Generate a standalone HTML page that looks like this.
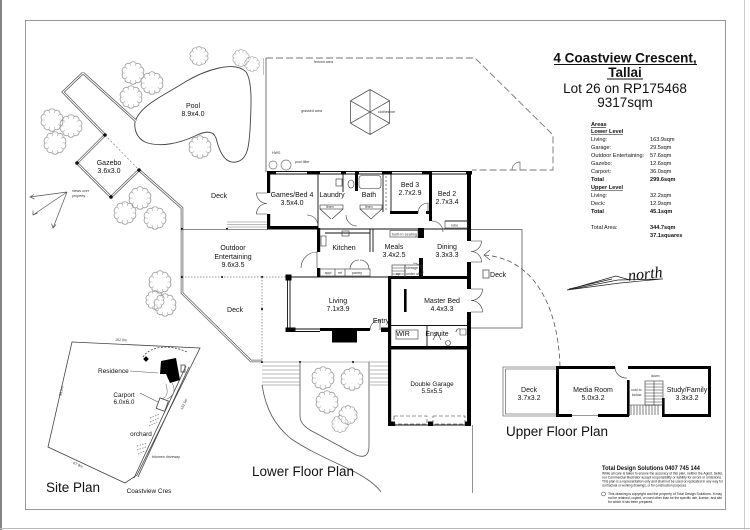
<!DOCTYPE html>
<html><head><meta charset="utf-8"><title>4 Coastview Crescent, Tallai</title>
<style>
html,body{margin:0;padding:0;background:#fff;width:750px;height:530px;overflow:hidden}
svg{display:block}
text{font-family:"Liberation Sans",Arial,sans-serif;fill:#111}
.r{font-size:7px;text-anchor:middle}
.g{font-size:6.4px;text-anchor:middle}
.s{font-size:3.6px;fill:#333}
.a{font-size:5.6px}
.b{font-weight:bold}
</style></head><body>
<svg width="750" height="530" viewBox="0 0 750 530" xmlns="http://www.w3.org/2000/svg">
<defs>
<symbol id="tr" viewBox="-12 -12 24 24">
<path d="M10,0 A3.6,3.6 0 0 1 8.09,5.88 A3.6,3.6 0 0 1 3.09,9.51 A3.6,3.6 0 0 1 -3.09,9.51 A3.6,3.6 0 0 1 -8.09,5.88 A3.6,3.6 0 0 1 -10,0 A3.6,3.6 0 0 1 -8.09,-5.88 A3.6,3.6 0 0 1 -3.09,-9.51 A3.6,3.6 0 0 1 3.09,-9.51 A3.6,3.6 0 0 1 8.09,-5.88 A3.6,3.6 0 0 1 10,0 Z" fill="none" stroke="#999" stroke-width="0.8"/>
<path d="M10,0 L7.4,0 M8.09,5.88 L6,4.35 M3.09,9.51 L2.3,7 M-3.09,9.51 L-2.3,7 M-8.09,5.88 L-6,4.35 M-10,0 L-7.4,0 M-8.09,-5.88 L-6,-4.35 M-3.09,-9.51 L-2.3,-7 M3.09,-9.51 L2.3,-7 M8.09,-5.88 L6,-4.35" stroke="#aaa" stroke-width="0.6"/>
</symbol>
</defs>
<rect width="750" height="530" fill="#fff"/>

<!-- page borders -->
<line x1="1" y1="0" x2="1" y2="530" stroke="#666" stroke-width="1.6"/>
<line x1="0" y1="528.5" x2="750" y2="528.5" stroke="#bbb" stroke-width="1"/>
<line x1="744.5" y1="0" x2="744.5" y2="530" stroke="#ccc" stroke-width="1"/>
<rect x="25.5" y="20.5" width="700" height="489" fill="none" stroke="#999" stroke-width="1"/>

<!-- fenced area -->
<path d="M266,58 L475,58 L553,135 L553,170 L472,170" fill="none" stroke="#777" stroke-width="0.9" stroke-dasharray="7 3"/>
<line x1="266" y1="58" x2="266" y2="172" stroke="#666" stroke-width="0.9"/>
<line x1="263.5" y1="58" x2="263.5" y2="75" stroke="#999" stroke-width="0.6"/>
<path d="M512,170 A8,8 0 0 1 520,162 L520,170" fill="none" stroke="#666" stroke-width="0.7"/>
<path d="M370,89.5 L389.5,100.75 L389.5,123.25 L370,134.5 L350.5,123.25 L350.5,100.75 Z M370,89.5 L370,134.5 M389.5,100.75 L350.5,123.25 M389.5,123.25 L350.5,100.75" fill="none" stroke="#555" stroke-width="0.8"/>
<text class="s" x="314" y="63">fenced area</text>
<text class="s" x="301" y="112">grassed area</text>
<text class="s" x="378" y="113">clothesline</text>
<text class="s" x="272" y="154">HWS</text>
<text class="s" x="295" y="163">pool filter</text>
<circle cx="273" cy="165" r="4" fill="none" stroke="#777" stroke-width="0.7"/>
<circle cx="286" cy="165" r="5" fill="none" stroke="#777" stroke-width="0.7"/>

<!-- pool -->
<path d="M135,122 C140,105 165,95 185,82 C205,70 235,60 246,72 C253,82 251,110 250,130 C249,145 248,160 236,162 C224,164 219,150 216,138 C213,130 205,131 195,136 C180,143 160,148 145,142 C137,138 134,130 135,122 Z" fill="none" stroke="#444" stroke-width="0.9"/>
<text class="r" x="193" y="108">Pool</text>
<text class="r" x="193" y="116">8.9x4.0</text>

<!-- walkways / deck edges (double lines) -->
<g fill="none" stroke-linejoin="miter">
<path d="M83,73 L63,92 L105,135 M83,73 L136,121 M139,170 L182,208 L182,293 L251,361 L262,361 M105,135 L77,163 L111,197 L139,170" stroke="#666" stroke-width="2.6"/>
<path d="M83,73 L63,92 L105,135 M83,73 L136,121 M139,170 L182,208 L182,293 L251,361 L262,361 M105,135 L77,163 L111,197 L139,170" stroke="#fff" stroke-width="1"/>
</g>
<line x1="105" y1="135" x2="139" y2="170" stroke="#777" stroke-width="0.6" stroke-dasharray="2 2"/>
<g fill="#111">
<circle cx="105" cy="135" r="1.8"/><circle cx="77" cy="163" r="1.8"/><circle cx="111" cy="197" r="1.8"/><circle cx="139" cy="170" r="1.8"/>
<circle cx="182" cy="229" r="1.1"/><circle cx="227" cy="229" r="1.1"/>
<circle cx="182" cy="277" r="1.1"/><circle cx="222" cy="277" r="1.1"/><circle cx="262" cy="277" r="1.1"/>
<circle cx="262" cy="309" r="1.1"/><circle cx="262" cy="362" r="1.1"/><circle cx="300" cy="362" r="1.1"/><circle cx="353" cy="362" r="1.1"/>
</g>
<text class="r" x="109" y="165">Gazebo</text>
<text class="r" x="109" y="173">3.6x3.0</text>

<!-- views arrows -->
<g fill="none" stroke="#555" stroke-width="0.7">
<path d="M67,192 L30,197 M67,192 L33,215 M67,192 L53,228"/>
<path d="M34,194.5 L30,197 L34.5,199 M33,210.5 L33,215 L37.5,213 M51.5,223.5 L53,228 L56,224.5"/>
</g>
<text class="s" x="72" y="192">views over</text>
<text class="s" x="72" y="197">property</text>

<!-- deck lines around outdoor entertaining -->
<line x1="182" y1="229.5" x2="268" y2="229.5" stroke="#666" stroke-width="0.8"/>
<g stroke="#777" stroke-width="0.6"><line x1="227" y1="222" x2="267" y2="222"/><line x1="227" y1="224.5" x2="267" y2="224.5"/><line x1="227" y1="227" x2="267" y2="227"/></g>
<line x1="182" y1="277" x2="287" y2="277" stroke="#777" stroke-width="0.7" stroke-dasharray="1.5 1.5"/>
<line x1="262" y1="277" x2="262" y2="362" stroke="#777" stroke-width="0.7" stroke-dasharray="1.5 1.5"/>
<text class="r" x="219" y="198">Deck</text>
<text class="r" x="233" y="250">Outdoor</text>
<text class="r" x="233" y="259">Entertaining</text>
<text class="r" x="233" y="267">9.6x3.5</text>
<text class="r" x="235" y="312">Deck</text>

<!-- lower steps & planter -->
<g stroke="#777" stroke-width="0.6">
<line x1="262" y1="362" x2="388" y2="362"/>
<line x1="262" y1="366" x2="300" y2="366"/><line x1="262" y1="370" x2="300" y2="370"/><line x1="262" y1="374" x2="300" y2="374"/><line x1="262" y1="378" x2="300" y2="378"/><line x1="262" y1="382" x2="300" y2="382"/><line x1="262" y1="385" x2="300" y2="385"/>
<line x1="370" y1="366" x2="388" y2="366"/><line x1="370" y1="370" x2="388" y2="370"/><line x1="370" y1="374" x2="388" y2="374"/><line x1="370" y1="378" x2="388" y2="378"/><line x1="370" y1="382" x2="388" y2="382"/><line x1="370" y1="385" x2="388" y2="385"/>
</g>
<path d="M300,362 L300,416 Q300,424 310,430 L356,455 Q369,460 369,446 L369,362" fill="none" stroke="#555" stroke-width="0.8"/>
<path d="M262,385 C266,410 275,425 290,438 C310,452 335,462 355,472 C368,479 376,485 381,492" fill="none" stroke="#555" stroke-width="0.8"/>
<line x1="472.5" y1="425" x2="472.5" y2="493" stroke="#777" stroke-width="0.8"/>

<!-- trees -->
<g>
<use href="#tr" x="189" y="46" width="20" height="20"/>
<use href="#tr" x="232" y="49" width="18" height="18"/>
<use href="#tr" x="244" y="56" width="16" height="16"/>
<use href="#tr" x="121" y="61" width="24" height="24"/>
<use href="#tr" x="140" y="71" width="24" height="24"/>
<use href="#tr" x="119" y="85" width="24" height="24"/>
<use href="#tr" x="40" y="108" width="24" height="24"/>
<use href="#tr" x="59" y="114" width="24" height="24"/>
<use href="#tr" x="43" y="131" width="24" height="24"/>
<use href="#tr" x="188" y="135" width="24" height="24"/>
<use href="#tr" x="128" y="186" width="24" height="24"/>
<use href="#tr" x="113" y="201" width="24" height="24"/>
<use href="#tr" x="143" y="206" width="24" height="24"/>
<use href="#tr" x="148" y="270" width="24" height="24"/>
<use href="#tr" x="145" y="290" width="20" height="20"/>
<use href="#tr" x="153" y="293" width="24" height="24"/>
<use href="#tr" x="311" y="366" width="24" height="24"/>
<use href="#tr" x="340" y="367" width="24" height="24"/>
<use href="#tr" x="315" y="390" width="24" height="24"/>
<use href="#tr" x="338" y="405" width="20" height="20"/>
<use href="#tr" x="331" y="415" width="18" height="18"/>
</g>

<!-- ============ HOUSE (lower floor) ============ -->
<g stroke="#111" stroke-width="0.9" fill="none">
<line x1="267" y1="171.5" x2="471" y2="171.5"/>
<line x1="267" y1="174" x2="471" y2="174"/>
<line x1="318" y1="172" x2="318" y2="228"/>
<line x1="343" y1="172" x2="343" y2="192"/>
<line x1="383" y1="172" x2="383" y2="212"/>
<line x1="391" y1="172" x2="391" y2="212"/>
<line x1="318" y1="229" x2="470" y2="229"/>
<line x1="445" y1="221" x2="468" y2="221"/>
<line x1="287.5" y1="277" x2="390" y2="277"/>
<line x1="287.5" y1="277" x2="287.5" y2="330"/>
<line x1="290" y1="277" x2="290" y2="330"/>
<line x1="295" y1="329" x2="320" y2="329"/>
<line x1="295" y1="331.5" x2="320" y2="331.5"/>
<line x1="390" y1="325.5" x2="470" y2="325.5"/>
<line x1="427" y1="325" x2="427" y2="348"/>
<line x1="395" y1="425" x2="466" y2="425"/>
<line x1="370" y1="229" x2="370" y2="252"/>
<line x1="373" y1="229" x2="373" y2="252"/>
<line x1="325" y1="233" x2="370" y2="233"/>
</g>
<line x1="389" y1="280" x2="389" y2="323" stroke="#333" stroke-width="0.8" stroke-dasharray="3 2"/>
<g fill="#000">
<rect x="267" y="171" width="9" height="3.5"/><rect x="307" y="171" width="13" height="3.5"/>
<rect x="341" y="171" width="5" height="3.5"/><rect x="355" y="171" width="4" height="3.5"/>
<rect x="382" y="171" width="10" height="3.5"/><rect x="422" y="171" width="10" height="3.5"/>
<rect x="466" y="171" width="6" height="3.5"/>
<rect x="267" y="171" width="3.2" height="22"/><rect x="267" y="214" width="3.2" height="15"/>
<rect x="267" y="226" width="51" height="3.5"/>
<rect x="355" y="171" width="3" height="20"/>
<rect x="390" y="211" width="28" height="3"/><rect x="426" y="211" width="5" height="3"/>
<rect x="429" y="171" width="3" height="50"/>
<rect x="317" y="228" width="3.2" height="24"/><rect x="317" y="268" width="3.2" height="9"/>
<rect x="418" y="228" width="6" height="10"/>
<rect x="419" y="258" width="4" height="19"/>
<rect x="285.5" y="274.5" width="6" height="6"/>
<rect x="285.5" y="327.5" width="10" height="4.5"/>
<rect x="320" y="328" width="50" height="3"/>
<rect x="332" y="330" width="25" height="12.5"/>
<rect x="381" y="327.5" width="9" height="4.5"/>
<rect x="388" y="276" width="83" height="3"/>
<rect x="388" y="276" width="3.2" height="150"/>
<rect x="404" y="289" width="2.6" height="23"/>
<rect x="467" y="171" width="4" height="70"/><rect x="467" y="262" width="4" height="27"/><rect x="467" y="312" width="4" height="114"/>
<rect x="388" y="346" width="83" height="3.5"/>
<rect x="388" y="421.5" width="7" height="4.5"/><rect x="428" y="421.5" width="5" height="4.5"/><rect x="465" y="421.5" width="6" height="4.5"/>
</g>
<!-- fixtures -->
<g fill="none" stroke="#333" stroke-width="0.6">
<rect x="359" y="175.5" width="22" height="13" rx="3"/>
<ellipse cx="351" cy="184" rx="3" ry="4"/>
<rect x="336" y="179" width="6" height="7"/>
<rect x="320" y="205" width="23" height="4"/><rect x="360" y="205" width="22" height="4"/>
<path d="M320,209 L331,219 M343,209 L332,219 M360,209 L371,219 M382,209 L371,219"/>
<rect x="445" y="221" width="23" height="7"/>
<line x1="386" y1="176" x2="386" y2="210" stroke-dasharray="2 2"/>
<rect x="390" y="230.5" width="28" height="6.5"/>
<rect x="320" y="269" width="50" height="7"/>
<line x1="335" y1="269" x2="335" y2="276"/><line x1="345" y1="269" x2="345" y2="276"/>
<path d="M350,269 A9,9 0 0 1 359,260 M369,269 A9,9 0 0 0 360,260"/>
<rect x="321" y="236" width="5" height="10"/>
<rect x="342" y="231" width="7" height="5"/>
<rect x="392" y="265" width="13" height="12"/>
<path d="M392,268 H405 M392,271 H405 M392,274 H405"/>
<rect x="405" y="265" width="17" height="12"/>
<rect x="396" y="330" width="22" height="9"/>
<circle cx="448" cy="343" r="2.5"/>
<path d="M460,329 h6 v6 h-6 z M456,332 a3,3 0 0 1 4,-3"/>
<path d="M433,340 l4,-8 l4,8"/>
<rect x="394" y="416" width="33" height="8" stroke-dasharray="4 2"/>
<rect x="433" y="416" width="32" height="8" stroke-dasharray="4 2"/>
</g>
<!-- doors -->
<g fill="none" stroke="#333" stroke-width="0.6">
<path d="M267,193 L256.5,193 A10.5,10.5 0 0 0 267,203.5 M267,214 L256.5,214 A10.5,10.5 0 0 1 267,203.5"/>
<path d="M471,241 L481.5,241 A10.5,10.5 0 0 1 471,251.5 M471,262 L481.5,262 A10.5,10.5 0 0 0 471,251.5"/>
<path d="M471,289 L482.5,289 A11.5,11.5 0 0 1 471,300.5 M471,312 L482.5,312 A11.5,11.5 0 0 0 471,300.5"/>
<path d="M317,268 L317,252 A16,16 0 0 0 301,268"/>
<path d="M370,330 A10,10 0 0 1 380,320 L380,330"/>
<path d="M418,213 A10,10 0 0 1 428,203 L428,213"/>
<path d="M432,221 A11,11 0 0 1 443,232"/>
<path d="M318,226 A11,11 0 0 0 307,215 M357,226 A11,11 0 0 1 346,215"/>
<path d="M423,273 A10,10 0 0 0 413,263"/>
</g>
<!-- right deck box -->
<g fill="none" stroke="#555" stroke-width="0.8">
<path d="M471,229.5 H522 V328 H471"/>
<rect x="483" y="270" width="6" height="8"/>
</g>

<!-- room labels -->
<text class="r" x="292" y="197">Games/Bed 4</text>
<text class="r" x="292" y="205">3.5x4.0</text>
<text class="r" x="332" y="197">Laundry</text>
<text class="r" x="369" y="197">Bath</text>
<text class="r" x="410" y="187">Bed 3</text>
<text class="r" x="410" y="195">2.7x2.9</text>
<text class="r" x="447" y="196">Bed 2</text>
<text class="r" x="447" y="204">2.7x3.4</text>
<text class="r" x="344" y="250">Kitchen</text>
<text class="r" x="394" y="249">Meals</text>
<text class="r" x="394" y="257">3.4x2.5</text>
<text class="r" x="447" y="249">Dining</text>
<text class="r" x="447" y="257">3.3x3.3</text>
<text class="r" x="338" y="303">Living</text>
<text class="r" x="338" y="311">7.1x3.9</text>
<text class="r" x="442" y="303">Master Bed</text>
<text class="r" x="442" y="311">4.4x3.3</text>
<text class="r" x="381" y="323">Entry</text>
<text class="r" x="403" y="336">WIR</text>
<text class="r" x="437" y="336">Ensuite</text>
<text class="g" x="432" y="386">Double Garage</text>
<text class="g" x="432" y="393">5.5x5.5</text>
<text class="r" x="498" y="277">Deck</text>
<text class="s" x="392" y="235.5" textLength="25">built-in seating</text>
<text class="s" x="328" y="274" text-anchor="middle">appl</text>
<text class="s" x="340" y="274" text-anchor="middle">ref</text>
<text class="s" x="357" y="274" text-anchor="middle">pantry</text>
<text class="s" x="451" y="226.5">robe</text>
<text class="s" x="326" y="208.2">linen</text>
<text class="s" x="365" y="208.2">linen</text>
<text class="s" x="406" y="269">storage</text>
<text class="s" x="406" y="275">under stair</text>
<text class="s" x="396" y="275">up</text>

<text x="252" y="476" style="font-size:13.5px">Lower Floor Plan</text>

<!-- ============ UPPER FLOOR ============ -->
<g fill="none" stroke="#777" stroke-width="0.8">
<path d="M557,367 H503 V416 H557"/>
<path d="M557,369 H505.5 V414 H557"/>
</g>
<g fill="#000">
<rect x="556" y="366" width="59" height="3"/><rect x="628" y="366" width="83" height="3"/>
<rect x="556" y="414" width="16" height="3"/><rect x="598" y="414" width="31" height="3"/><rect x="662" y="414" width="49" height="3"/>
<rect x="556" y="366" width="3" height="51"/>
<rect x="708" y="366" width="3" height="51"/>
<rect x="627" y="380" width="2.6" height="36"/>
<rect x="662" y="398" width="2.6" height="18"/>
</g>
<g fill="none" stroke="#333" stroke-width="0.6">
<line x1="572" y1="415.5" x2="598" y2="415.5"/>
<path d="M615,367 A11,11 0 0 0 627,378"/>
<rect x="645" y="381" width="18" height="24"/>
<path d="M645,384 H663 M645,387 H663 M645,390 H663 M645,393 H663 M645,396 H663 M645,399 H663 M645,402 H663 M654,381 V405"/>
<path d="M631,405 V415 M634,405 V415 M637,405 V415 M640,405 V415 M643,405 V415 M646,405 V415 M649,405 V415 M652,405 V415 M655,405 V415 M658,405 V415 M629,405 H663"/>
</g>
<text class="s" x="631" y="391">void to</text>
<text class="s" x="632" y="396">below</text>
<text class="s" x="651" y="377">down</text>
<text class="r" x="529" y="392">Deck</text>
<text class="r" x="529" y="400">3.7x3.2</text>
<text class="r" x="593" y="392">Media Room</text>
<text class="r" x="593" y="400">5.0x3.2</text>
<text class="r" x="687" y="392">Study/Family</text>
<text class="r" x="687" y="400">3.3x3.2</text>
<text x="506" y="436" style="font-size:13.5px">Upper Floor Plan</text>

<!-- dashed connector -->
<path d="M484,255 C530,258 558,300 560,367" fill="none" stroke="#555" stroke-width="0.8" stroke-dasharray="5 3"/>
<path d="M490,250 L484,255 L490,260" fill="none" stroke="#555" stroke-width="0.7"/>

<!-- north arrow -->
<g fill="none" stroke="#222" stroke-width="0.7">
<path d="M567,290 L616,276 L630,280 M567,290 L618,280 L663,279 M569,289 L612,279 M567,290 L620,283 L662,279"/>
</g>
<text x="628" y="279" transform="rotate(-6 645 275)" style="font-family:'Liberation Serif',serif;font-style:italic;font-size:16px">north</text>

<!-- ============ TITLE & AREAS ============ -->
<text x="625" y="62.5" text-anchor="middle" class="b" style="font-size:13.5px">4 Coastview Crescent,</text>
<line x1="554" y1="64.5" x2="697" y2="64.5" stroke="#111" stroke-width="1"/>
<text x="625" y="77" text-anchor="middle" class="b" style="font-size:13.5px">Tallai</text>
<line x1="607" y1="79" x2="643" y2="79" stroke="#111" stroke-width="1"/>
<text x="625" y="93" text-anchor="middle" style="font-size:13.5px">Lot 26 on RP175468</text>
<text x="625" y="107" text-anchor="middle" style="font-size:13.5px">9317sqm</text>

<g class="a">
<text x="591" y="126" class="a b">Areas</text>
<text x="591" y="133" class="a b">Lower Level</text>
<text x="591" y="141" class="a">Living:</text><text x="650" y="141" class="a">163.9sqm</text>
<text x="591" y="149" class="a">Garage:</text><text x="650" y="149" class="a">29.5sqm</text>
<text x="591" y="157" class="a">Outdoor Entertaining:</text><text x="650" y="157" class="a">57.6sqm</text>
<text x="591" y="165" class="a">Gazebo:</text><text x="650" y="165" class="a">12.6sqm</text>
<text x="591" y="173" class="a">Carport:</text><text x="650" y="173" class="a">36.0sqm</text>
<text x="591" y="181" class="a b">Total</text><text x="650" y="181" class="a b">299.6sqm</text>
<text x="591" y="189" class="a b">Upper Level</text>
<text x="591" y="197" class="a">Living:</text><text x="650" y="197" class="a">32.2sqm</text>
<text x="591" y="205" class="a">Deck:</text><text x="650" y="205" class="a">12.9sqm</text>
<text x="591" y="213" class="a b">Total</text><text x="650" y="213" class="a b">45.1sqm</text>
<text x="591" y="229" class="a">Total Area:</text><text x="650" y="229" class="a b">344.7sqm</text>
<text x="650" y="237" class="a b">37.1squares</text>
</g>
<g stroke="#111" stroke-width="0.6">
<line x1="591" y1="127.5" x2="606" y2="127.5"/>
<line x1="591" y1="134.5" x2="623" y2="134.5"/>
<line x1="591" y1="190.5" x2="623" y2="190.5"/>
</g>

<!-- ============ SITE PLAN ============ -->
<g fill="none" stroke="#444" stroke-width="0.8">
<path d="M72,342 L200,348 L137,475 L125,483 L48,447 Z"/>
<path d="M186,366 L134,478 M189,367 L138,477"/>
<path d="M143,357 C150,346 170,344 187,352" stroke-dasharray="2 1.5"/>
<path d="M172,383 C176,390 174,396 167,399 M166,384 C168,392 168,396 162,399" stroke="#777" stroke-width="0.6"/>
<rect x="181" y="365" width="4" height="7"/>
<rect x="158" y="399" width="9" height="11" transform="rotate(20 162 404)"/>
<path d="M130,371 L158,373 M140,393 L158,402" stroke="#555" stroke-width="0.6"/>
<path d="M150,418 L160,414 M150,422 L159,418 M149,426 L157,422 M137,446 L147,443 M137,450 L146,447 M138,454 L145,451" stroke="#777" stroke-dasharray="1.5 1.2" stroke-width="0.7"/>
</g>
<path d="M161,361 L176,358 L180,380 L170,383 L166,374 L160,374 Z" fill="#000"/>
<rect x="144" y="357" width="4" height="4" fill="#000" transform="rotate(45 146 359)"/>
<text x="98" y="373" style="font-size:6.5px">Residence</text>
<text x="124" y="397" class="g">Carport</text>
<text x="124" y="404" class="g">6.0x6.0</text>
<text x="141" y="436" class="g">orchard</text>
<text x="149" y="493" class="g">Coastview Cres</text>
<text x="115" y="341" class="s" transform="rotate(3 120 341)">102.0m</text>
<text x="55" y="398" class="s" transform="rotate(-77 57 393)">95.2m</text>
<text x="180" y="414" class="s" transform="rotate(-64 178 410)">152.5m</text>
<text x="73" y="466" class="s" transform="rotate(25 78 465)">67.8m</text>
<text x="152" y="458" class="s">bitumen driveway</text>
<text x="46" y="492" style="font-size:13.5px">Site Plan</text>

<!-- ============ FOOTER ============ -->
<text x="602" y="470" class="b" style="font-size:6px" textLength="98" lengthAdjust="spacingAndGlyphs">Total Design Solutions 0407 745 144</text>
<g style="font-size:3.4px">
<text x="602" y="474.5" textLength="121" lengthAdjust="spacingAndGlyphs">While all care is taken to ensure the accuracy of this plan, neither the Agent, Seller,</text>
<text x="602" y="478.5" textLength="120" lengthAdjust="spacingAndGlyphs">nor Commercial Illustrator accept responsibility or liability for errors or omissions.</text>
<text x="602" y="482.5" textLength="121" lengthAdjust="spacingAndGlyphs">This plan is a representation only and shall not be used or replicated in any way for</text>
<text x="602" y="486.5" textLength="85" lengthAdjust="spacingAndGlyphs">contractual or working drawings, or for construction purposes.</text>
<text x="608" y="495" textLength="114" lengthAdjust="spacingAndGlyphs">This drawing is copyright and the property of Total Design Solutions. It may</text>
<text x="608" y="499" textLength="114" lengthAdjust="spacingAndGlyphs">not be retained, copied, or used other than for the specific use, license, and site</text>
<text x="608" y="503" textLength="45" lengthAdjust="spacingAndGlyphs">for which it has been prepared.</text>
</g>
<circle cx="603.5" cy="494" r="2" fill="none" stroke="#333" stroke-width="0.5"/>
</svg>
</body></html>
